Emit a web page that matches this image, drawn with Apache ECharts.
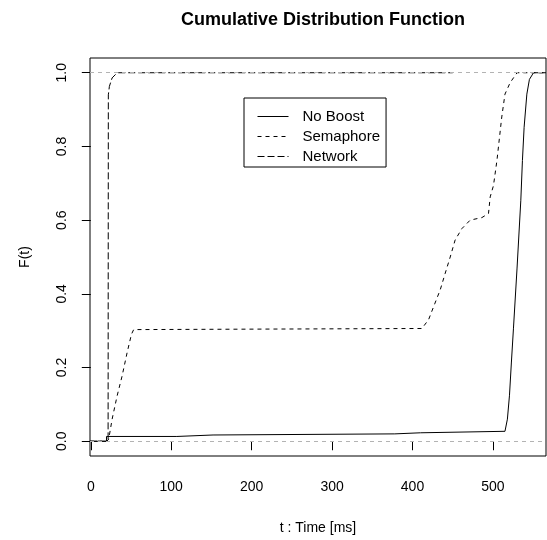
<!DOCTYPE html>
<html>
<head>
<meta charset="utf-8">
<script src="https://cdn.jsdelivr.net/npm/echarts@6/dist/echarts.min.js"></script>
<style>
  html, body { margin: 0; padding: 0; background: #fff; }
  #chart { width: 547px; height: 540px; }
</style>
</head>
<body>
<div id="chart"></div>
<script>
// ticks
var xTicks = [0, 100, 200, 300, 400, 500];
var yTicks = [0, 0.2, 0.4, 0.6, 0.8, 1.0];

// No Boost (solid)
var noBoostT = [-1, 19.5, 19.5, 107, 107, 152, 152, 378, 378, 410, 410, 515, 518, 520.6, 523, 525.5, 530, 534.7, 536.7, 538.8, 542.2, 545.4, 548.8, 550.4, 566];
var noBoostF = [0, 0, 0.013, 0.013, 0.017, 0.017, 0.02, 0.02, 0.023, 0.023, 0.027, 0.027, 0.06, 0.125, 0.215, 0.305, 0.47, 0.654, 0.762, 0.852, 0.942, 0.982, 0.994, 1.0, 1.0];

// Semaphore (dashed)
var semT = [-1, 20, 22.3, 26.5, 32.7, 38.9, 45.1, 50.5, 53.3, 411.7, 420, 428, 434.5, 440.7, 446.9, 453, 461.4, 471.7, 486.3, 494.5, 496.6, 500.7, 505, 511, 515, 521.4, 530, 566];
var semF = [0, 0, 0.006, 0.06, 0.123, 0.177, 0.24, 0.29, 0.303, 0.306, 0.33, 0.375, 0.411, 0.456, 0.5, 0.546, 0.577, 0.6, 0.607, 0.618, 0.663, 0.694, 0.762, 0.88, 0.942, 0.973, 1.0, 1.0];

// Network (long dash)
var netT = [-1, 21.5, 21.8, 23.1, 26.5, 30.6, 34, 450];
var netF = [0, 0, 0.94, 0.963, 0.986, 0.995, 1.0, 1.0];

function pairs(t, f) {
  var out = [];
  for (var i = 0; i < t.length; i++) out.push([t[i], f[i]]);
  return out;
}

var chart = echarts.init(document.getElementById('chart'));
var font = 'Liberation Sans, Arial, Helvetica, sans-serif';

var option = {
  animation: false,
  backgroundColor: '#fff',
  textStyle: { fontFamily: font, color: '#000' },
  title: {
    text: 'Cumulative Distribution Function',
    left: 318,
    textAlign: 'center',
    top: 6,
    textStyle: { fontFamily: font, fontSize: 18, fontWeight: 'bold', color: '#000' }
  },
  legend: {
    data: ['No Boost', 'Semaphore', 'Network'],
    orient: 'vertical',
    left: 244,
    top: 98,
    itemWidth: 31,
    itemHeight: 14,
    itemGap: 5,
    padding: [11, 6, 3, 13],
    borderColor: '#000',
    borderWidth: 1,
    // hide the marker circle, keep the line
    itemStyle: { color: 'rgba(0,0,0,0)', borderWidth: 0, opacity: 0 },
    lineStyle: { width: 1 },
    textStyle: { fontFamily: font, fontSize: 15, color: '#000', padding: [0, 0, 0, 9] }
  },
  grid: {
    left: 90, right: 1, top: 58, bottom: 84,
    show: true, borderColor: '#000', borderWidth: 1
  },
  xAxis: {
    type: 'value',
    min: -1,
    max: 566,
    name: 't : Time [ms]',
    nameLocation: 'middle',
    nameGap: 65,
    nameTextStyle: { fontFamily: font, fontSize: 14, color: '#000' },
    axisLine: { show: false },
    axisTick: { show: true, length: 9, customValues: xTicks, lineStyle: { color: '#000' } },
    axisLabel: { customValues: xTicks, fontFamily: font, fontSize: 14, color: '#000', margin: 24 },
    splitLine: { show: false }
  },
  yAxis: {
    type: 'value',
    min: -0.04,
    max: 1.04,
    name: 'F(t)',
    nameLocation: 'middle',
    nameGap: 58,
    nameTextStyle: { fontFamily: font, fontSize: 14, color: '#000' },
    axisLine: { show: false },
    axisTick: { show: true, length: 9, customValues: yTicks, lineStyle: { color: '#000' } },
    axisLabel: {
      customValues: yTicks, rotate: 90, fontFamily: font, fontSize: 14, color: '#000', margin: 21,
      formatter: function (v) { return v.toFixed(1); }
    },
    splitLine: { show: false }
  },
  series: [
    {
      name: 'No Boost',
      type: 'line',
      data: pairs(noBoostT, noBoostF),
      symbol: 'none',
      lineStyle: { color: '#000', width: 1 },
      itemStyle: { color: '#000' },
      z: 3,
      markLine: {
        silent: true,
        symbol: ['none', 'none'],
        label: { show: false },
        lineStyle: { color: '#b3b3b3', type: [4, 4], width: 1 },
        data: [{ yAxis: 0 }, { yAxis: 1 }]
      }
    },
    {
      name: 'Semaphore',
      type: 'line',
      data: pairs(semT, semF),
      symbol: 'none',
      lineStyle: { color: '#000', width: 1, type: [4, 4] },
      itemStyle: { color: '#000' },
      z: 3
    },
    {
      name: 'Network',
      type: 'line',
      data: pairs(netT, netF),
      symbol: 'none',
      lineStyle: { color: '#000', width: 1, type: [7, 3] },
      itemStyle: { color: '#000' },
      z: 3
    }
  ]
};

chart.setOption(option);
</script>
</body>
</html>
